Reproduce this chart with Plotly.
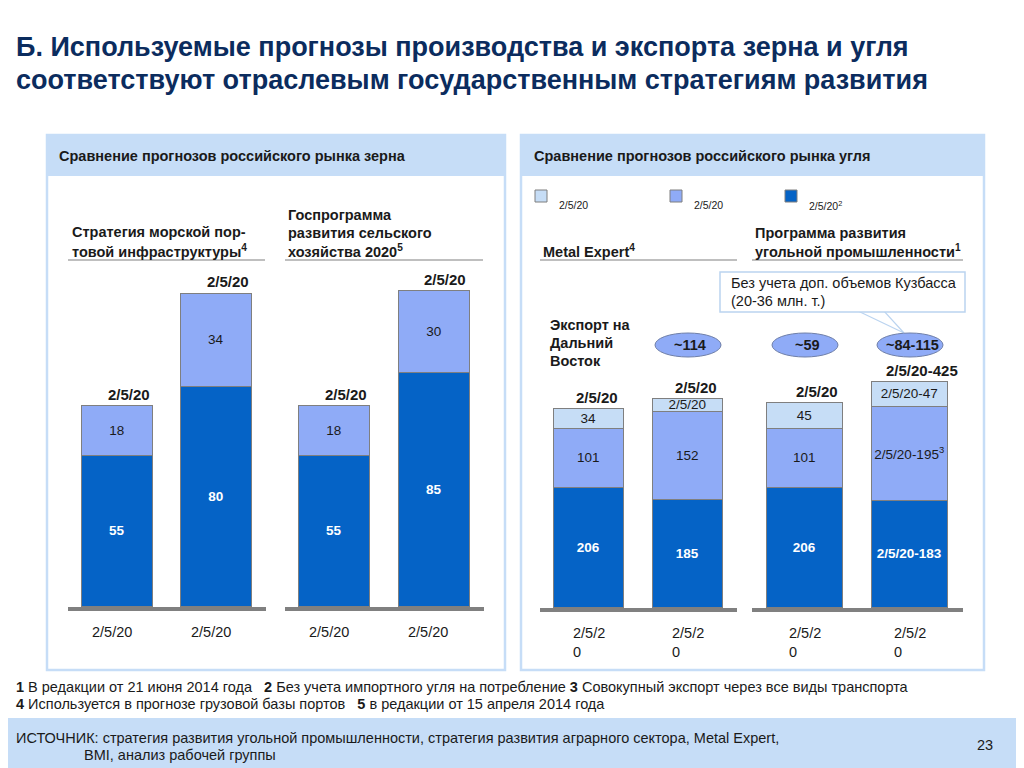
import plotly.graph_objects as go

W, H = 1024, 768
OX, OY = 8, 8  # page body margin compensation

# ---------------- data ----------------
grain_ticks = ["2/5/20", "2/5/20"]
grain_strat_base = [55, 80]
grain_strat_top = [18, 34]
grain_gos_base = [55, 85]
grain_gos_top = [18, 30]
grain_strat_totals = ["2/5/20", "2/5/20"]
grain_gos_totals = ["2/5/20", "2/5/20"]

coal_ticks = ["2/5/2<br>0", "2/5/2<br>0"]
coal_me_bottom = [206, 185]
coal_me_mid = [101, 152]
coal_me_top = [34, 21]
coal_me_bottom_lbl = ["206", "185"]
coal_me_mid_lbl = ["101", "152"]
coal_me_top_lbl = ["34", "2/5/20"]
coal_me_totals = ["2/5/20", "2/5/20"]

coal_pr_bottom = [206, 183]
coal_pr_mid = [101, 161]
coal_pr_top = [45, 43]
coal_pr_bottom_lbl = ["206", "2/5/20-183"]
coal_pr_mid_lbl = ["101", "2/5/20-195<sup>3</sup>"]
coal_pr_top_lbl = ["45", "2/5/20-47"]
coal_pr_totals = ["2/5/20", "2/5/20-425"]

far_east_export = ["~114", "~59", "~84-115"]
legend_names = ["2/5/20", "2/5/20", "2/5/20<sup>2</sup>"]

# ---------------- styles ----------------
DARK = "#0563C6"
MID = "#8FABF7"
LIGHT = "#C6DDF6"
OUTLINE = "#7F7F7F"
BAND = "#C6DDF7"
TITLE = "#0B2C5E"
TXT = "#1A1A1A"
FONT = "Liberation Sans, Arial, sans-serif"
NARROW = "Liberation Sans Narrow, Arial Narrow, Liberation Sans, sans-serif"


def px(x):
    return (x - OX) / W


def py(y):
    return 1 - (y - OY) / H


fig = go.Figure()

subplots = {
    "g1": ("x", "y", 68, 266, 607, 2.75),
    "g2": ("x2", "y2", 285, 484, 607, 2.75),
    "c1": ("x3", "y3", 540, 737, 608, 0.583),
    "c2": ("x4", "y4", 752, 963, 608, 0.583),
}
TOP_PX = 270


def add_stack(key, values, texts, colors, fonts, widths):
    xa, ya = subplots[key][0], subplots[key][1]
    idx = list(range(len(values[0])))
    for vals, txt, col, fnt in zip(values, texts, colors, fonts):
        fig.add_trace(go.Bar(
            x=idx, y=vals, text=txt, textposition="inside",
            insidetextanchor="middle", textangle=0,
            texttemplate="%{text}",
            textfont=fnt, marker=dict(color=col, line=dict(color=OUTLINE, width=1.5)),
            width=widths, xaxis=xa, yaxis=ya, cliponaxis=False,
            showlegend=False, hoverinfo="skip",
        ))


white_bold = dict(color="white", size=13.5, family=FONT, weight="bold")
dark_norm = dict(color=TXT, size=13.5, family=FONT)

add_stack("g1", [grain_strat_base, grain_strat_top],
          [[str(v) for v in grain_strat_base], [str(v) for v in grain_strat_top]],
          [DARK, MID], [white_bold, dark_norm], 0.71)
add_stack("g2", [grain_gos_base, grain_gos_top],
          [[str(v) for v in grain_gos_base], [str(v) for v in grain_gos_top]],
          [DARK, MID], [white_bold, dark_norm], 0.71)
add_stack("c1", [coal_me_bottom, coal_me_mid, coal_me_top],
          [coal_me_bottom_lbl, coal_me_mid_lbl, coal_me_top_lbl],
          [DARK, MID, LIGHT], [white_bold, dark_norm, dark_norm], 0.71)
add_stack("c2", [coal_pr_bottom, coal_pr_mid, coal_pr_top],
          [coal_pr_bottom_lbl, coal_pr_mid_lbl, coal_pr_top_lbl],
          [DARK, MID, LIGHT], [white_bold, dark_norm, dark_norm], 0.72)

layout_axes = {}
for k, (xa, ya, x0, x1, bot, scale) in subplots.items():
    xname = "xaxis" + xa[1:]
    yname = "yaxis" + ya[1:]
    ymax = (bot - TOP_PX) / scale
    layout_axes[xname] = dict(
        domain=[px(x0), px(x1)], anchor=ya, range=[-0.5, 1.5],
        showline=True, linecolor="#808080", linewidth=4,
        showgrid=False, zeroline=False, ticks="", showticklabels=False,
        fixedrange=True,
    )
    layout_axes[yname] = dict(
        domain=[py(bot), py(TOP_PX)], anchor=xa, range=[0, ymax],
        visible=False, fixedrange=True,
    )

fig.update_layout(**layout_axes)

shapes = []
ann = []


def text(x, y, t, size=14.5, anchor="left", color=TXT, family=FONT, bold=False):
    ann.append(dict(xref="paper", yref="paper", x=px(x), y=py(y), xanchor=anchor,
                    yanchor="middle", align=anchor if anchor != "center" else "center",
                    showarrow=False, text=f"<b>{t}</b>" if bold else t,
                    font=dict(size=size, color=color, family=family)))


# panels
for x0, x1 in [(47, 505), (521, 984)]:
    shapes.append(dict(type="rect", xref="paper", yref="paper",
                       x0=px(x0), x1=px(x1), y0=py(670), y1=py(135),
                       fillcolor="white", line=dict(color=BAND, width=2.5), layer="below"))
    shapes.append(dict(type="rect", xref="paper", yref="paper",
                       x0=px(x0), x1=px(x1), y0=py(176), y1=py(135),
                       fillcolor=BAND, line=dict(width=0), layer="below"))

# source band
shapes.append(dict(type="rect", xref="paper", yref="paper",
                   x0=px(0), x1=px(W + 20), y0=py(H + 20), y1=py(718), fillcolor=BAND,
                   line=dict(width=0), layer="below"))

# header underlines
for x0, x1 in [(68, 265), (285, 483), (540, 737), (752, 963)]:
    shapes.append(dict(type="line", xref="paper", yref="paper",
                       x0=px(x0), x1=px(x1), y0=py(260), y1=py(260),
                       line=dict(color="#808080", width=1.2)))

# legend (coal series)
for lx, name, col in zip([535, 670, 785], legend_names, [LIGHT, MID, DARK]):
    shapes.append(dict(type="rect", xref="paper", yref="paper",
                       x0=px(lx), x1=px(lx + 12), y0=py(202), y1=py(190),
                       fillcolor=col, line=dict(color=OUTLINE, width=1)))
    text(lx + 22, 205, name, size=10.5)

# callout wedge and box
shapes.append(dict(type="path", xref="paper", yref="paper",
                   path=f"M {px(858)},{py(311)} L {px(904)},{py(333)} L {px(884)},{py(311)} Z",
                   fillcolor="white", line=dict(color="#BBD4F0", width=1.2)))
shapes.append(dict(type="rect", xref="paper", yref="paper",
                   x0=px(720), x1=px(965), y0=py(312), y1=py(272),
                   fillcolor="white", line=dict(color="#BBD4F0", width=1.5)))
text(729, 283, "Без учета доп. объемов Кузбасса")
text(729, 301, "(20-36 млн. т.)")

# far east export ellipses
for cx, t in zip([688, 805, 910], far_east_export):
    shapes.append(dict(type="circle", xref="paper", yref="paper",
                       x0=px(cx - 33), x1=px(cx + 33), y0=py(357), y1=py(333),
                       fillcolor=MID, line=dict(color="#6F7FA8", width=1)))
    text(cx + 2, 345, t, anchor="center", bold=True)

for yy, t in zip([325, 343, 361], ["Экспорт на", "Дальний", "Восток"]):
    text(548, yy, t, bold=True)

# title
text(14, 47, "Б. Используемые прогнозы производства и экспорта зерна и угля",
     size=27, color=TITLE, bold=True)
text(14, 80, "соответствуют отраслевым государственным стратегиям развития",
     size=27, color=TITLE, bold=True)

# panel headers
text(57, 156, "Сравнение прогнозов российского рынка зерна", bold=True)
text(532, 156, "Сравнение прогнозов российского рынка угля", bold=True)

# group headers
for x0, lines in [(70, [(232, "Стратегия морской пор-"), (251, "товой инфраструктуры<sup>4</sup>")]),
                  (286, [(215, "Госпрограмма"), (233, "развития сельского"),
                         (251, "хозяйства 2020<sup>5</sup>")]),
                  (541, [(251, "Metal Expert<sup>4</sup>")]),
                  (753, [(233, "Программа развития"), (251, "угольной промышленности<sup>1</sup>")])]:
    for yy, t in lines:
        text(x0, yy, t, bold=True)

# stack totals
tot_specs = [
    ("g1", [a + b for a, b in zip(grain_strat_base, grain_strat_top)], grain_strat_totals, 11),
    ("g2", [a + b for a, b in zip(grain_gos_base, grain_gos_top)], grain_gos_totals, 11),
    ("c1", [a + b + c for a, b, c in zip(coal_me_bottom, coal_me_mid, coal_me_top)], coal_me_totals, 8),
    ("c2", [a + b + c for a, b, c in zip(coal_pr_bottom, coal_pr_mid, coal_pr_top)], coal_pr_totals, 12),
]
for key, tots, labels, xs in tot_specs:
    xa, ya = subplots[key][0], subplots[key][1]
    for i, (tv, lb) in enumerate(zip(tots, labels)):
        ann.append(dict(xref=xa, yref=ya, x=i, y=tv, xanchor="center", yanchor="bottom",
                        yshift=1, xshift=xs, showarrow=False, text=f"<b>{lb}</b>",
                        font=dict(size=15, color=TXT, family=FONT)))

# x labels
for key in ["g1", "g2"]:
    xa = subplots[key][0]
    for i, t in enumerate(grain_ticks):
        ann.append(dict(xref=xa, yref="paper", x=i, y=py(632), xanchor="center",
                        yanchor="middle", xshift=-6, showarrow=False, text=t,
                        font=dict(size=14.5, color=TXT, family=FONT)))
for key in ["c1", "c2"]:
    xa = subplots[key][0]
    for i, t in enumerate(coal_ticks):
        ann.append(dict(xref=xa, yref="paper", x=i, y=py(642), xanchor="center",
                        yanchor="middle", align="left", showarrow=False, text=t,
                        font=dict(size=14.5, color=TXT, family=FONT)))

# footnotes
text(14, 687, "<b>1</b> В редакции от 21 июня 2014 года &nbsp;&nbsp;<b>2</b> Без учета импортного угля на потребление "
              "<b>3</b> Совокупный экспорт через все виды транспорта", size=14.5, family=NARROW)
text(14, 704, "<b>4</b> Используется в прогнозе грузовой базы портов &nbsp;&nbsp;<b>5</b> в редакции от 15 апреля 2014 года",
     size=14.5, family=NARROW)
text(14, 738, "ИСТОЧНИК: стратегия развития угольной промышленности, стратегия развития аграрного сектора, Metal Expert,",
     size=14.5, family=NARROW)
text(82, 755, "BMI, анализ рабочей группы", size=14.5, family=NARROW)
text(985, 745, "23", size=14.5, family=NARROW, anchor="center")

fig.update_layout(
    width=W, height=H, margin=dict(l=0, r=0, t=0, b=0, autoexpand=False),
    paper_bgcolor="white", plot_bgcolor="rgba(0,0,0,0)",
    barmode="stack", bargap=0, showlegend=False,
    shapes=shapes, annotations=ann,
    uniformtext=dict(minsize=13.5, mode="show"),
    font=dict(family=FONT),
)

fig.write_html("out.html")
